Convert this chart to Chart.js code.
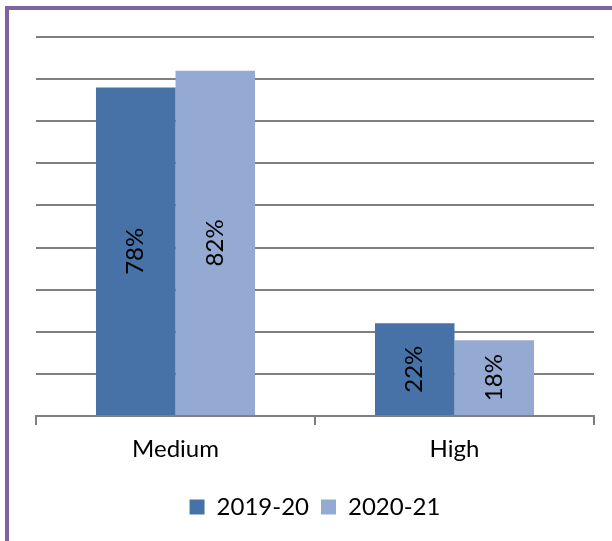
<!DOCTYPE html>
<html>
<head>
<meta charset="utf-8">
<script src="https://cdn.jsdelivr.net/npm/chart.js@4"></script>
<style>
  body { margin: 0; background: #fff; }
  #wrap { position: absolute; left: 0; top: 0; width: 612px; height: 541px; }
  #frame { position: absolute; left: 5px; top: 6px; width: 607px; height: 535px;
           border-left: 4px solid #8064A2; border-top: 4px solid #8064A2; box-sizing: border-box; }
</style>
</head>
<body>
<div id="wrap">
  <div id="frame"></div>
  <canvas id="chart" width="612" height="541"></canvas>
</div>
<script>
// categories + series
const categories = ["Medium", "High"];
const series2019 = [78, 22];
const series2020 = [82, 18];
const seriesNames = ["2019-20", "2020-21"];

const color = { dark: "#4672A8", light: "#95AAD2", grid: "#7f7f7f" };
const fontFamily = "Lato, 'Open Sans', sans-serif";

// labels written sideways inside each bar
const barLabels = {
  id: "barLabels",
  afterDatasetsDraw(chart) {
    const ctx = chart.ctx;
    ctx.save();
    ctx.fillStyle = "#000";
    ctx.font = "24px " + fontFamily;
    ctx.textAlign = "center";
    ctx.textBaseline = "middle";
    chart.data.datasets.forEach((ds, i) => {
      chart.getDatasetMeta(i).data.forEach((bar, j) => {
        const y = (bar.y + bar.base) / 2;
        ctx.save();
        ctx.translate(bar.x, y);
        ctx.rotate(-Math.PI / 2);
        ctx.fillText(ds.data[j] + "%", 0, 0);
        ctx.restore();
      });
    });
    ctx.restore();
  }
};

new Chart(document.getElementById("chart"), {
  type: "bar",
  data: {
    labels: categories,
    datasets: [
      { label: seriesNames[0], data: series2019, backgroundColor: color.dark },
      { label: seriesNames[1], data: series2020, backgroundColor: color.light }
    ]
  },
  options: {
    responsive: false,
    animation: false,
    datasets: { bar: { categoryPercentage: 0.57, barPercentage: 1.0 } },
    layout: { padding: { left: 36, right: 18, top: 37, bottom: 12 } },
    scales: {
      x: {
        afterFit(scale) { scale.height = 67; },
        grid: { offset: true, drawOnChartArea: false, tickLength: 9, color: color.grid, lineWidth: 2 },
        border: { color: color.grid, width: 2 },
        ticks: { color: "#000", font: { family: fontFamily, size: 24 }, padding: 10 }
      },
      y: {
        min: 0, max: 90,
        ticks: { display: false, stepSize: 10 },
        grid: { color: color.grid, lineWidth: 2, tickLength: 0 },
        border: { display: false }
      }
    },
    plugins: {
      legend: {
        position: "bottom",
        labels: { color: "#000", font: { family: fontFamily, size: 24 }, boxWidth: 15, boxHeight: 15, padding: 12 }
      },
      tooltip: { enabled: false }
    }
  },
  plugins: [barLabels]
});
</script>
</body>
</html>
